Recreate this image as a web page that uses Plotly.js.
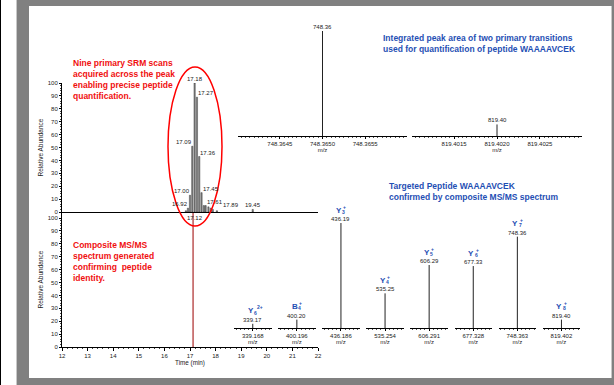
<!DOCTYPE html>
<html><head><meta charset="utf-8">
<script src="https://cdn.plot.ly/plotly-3.0.1.min.js"></script>
<style>html,body{margin:0;padding:0;background:#fff}#chart{width:614px;height:385px}</style>
</head><body><div id="chart"></div>
<script>
// ---------- DATA ----------
// Upper panel: SRM chromatogram (retention time in min, relative abundance %)
const scanTimes     = [16.84, 16.92, 17.00, 17.09, 17.18, 17.27, 17.36, 17.45, 17.54, 17.61, 17.72, 17.81, 17.89, 18.05, 19.45];
const scanAbundance = [1, 3, 13, 51, 100, 89, 43, 15, 5, 5, 4, 3, 2, 1, 2];
const labeledScans  = [16.92, 17.00, 17.09, 17.18, 17.27, 17.36, 17.45, 17.61, 17.89, 19.45];
const msmsTime = 17.12;

// Top right: the two primary SRM transitions (m/z, relative peak area)
const srmMz    = [748.3650, 819.4020];
const srmArea  = [100, 11];
const srmTicks = [[748.3645, 748.3650, 748.3655], [819.4015, 819.4020, 819.4025]];

// Lower panel: composite MS/MS fragment ions
const ionType      = ['Y', 'B', 'Y', 'Y', 'Y', 'Y', 'Y', 'Y'];
const ionNumber    = ['6', '4', '3', '4', '5', '6', '7', '8'];
const ionCharge    = ['2+', '+', '+', '+', '+', '+', '+', '+'];
const ionMz        = [339.168, 400.196, 436.186, 535.254, 606.291, 677.328, 748.363, 819.402];
const ionAbundance = [4, 8, 100, 33, 60, 59, 87, 8];

// ---------- LAYOUT HELPERS ----------
const W = 614, H = 385;
const fx = p => p / W;
const fy = p => 1 - p / H;
const FONT = 'Liberation Sans, Arial, sans-serif';
const tickFont = {family: FONT, size: 6, color: '#222'};
const RED = '#f01010', BLUE = '#1f4fb4';
const trunc2 = v => (Math.floor(v * 100 + 1e-6) / 100).toFixed(2);

const traces = [];
const layout = {
  width: W, height: H, margin: {l: 0, r: 0, t: 0, b: 0},
  paper_bgcolor: '#fff', plot_bgcolor: 'rgba(0,0,0,0)',
  showlegend: false, annotations: [], shapes: []
};

// frame
layout.shapes.push(
  {type: 'rect', xref: 'paper', yref: 'paper', x0: fx(17), x1: fx(614), y0: 0, y1: 1, fillcolor: '#808080', line: {width: 0}, layer: 'below'},
  {type: 'rect', xref: 'paper', yref: 'paper', x0: fx(29), x1: fx(611), y0: fy(378), y1: fy(6), fillcolor: '#ffffff', line: {width: 0}, layer: 'below'},
  {type: 'line', xref: 'paper', yref: 'paper', x0: fx(16.5), x1: fx(16.5), y0: 0, y1: 1, line: {color: '#c8c8c8', width: 1}, layer: 'below'},
  {type: 'line', xref: 'paper', yref: 'paper', x0: fx(611.5), x1: fx(611.5), y0: fy(378), y1: fy(6), line: {color: '#c8c8c8', width: 1}, layer: 'below'},
  {type: 'line', xref: 'paper', yref: 'paper', x0: fx(0.5), x1: fx(0.5), y0: 0, y1: 1, line: {color: '#000', width: 1}, layer: 'below'}
);

// ---------- CHROMATOGRAM AXES ----------
const timeDomain = [fx(62), fx(318)];
const axLine = {showline: true, linecolor: '#000', linewidth: 1, showgrid: false, zeroline: false, fixedrange: true};
layout.xaxis = Object.assign({}, axLine, {
  domain: timeDomain, range: [12, 22], anchor: 'y', ticks: 'outside', ticklen: 2.5, tickcolor: '#000',
  tick0: 12, dtick: 1, tickfont: tickFont,
  minor: {ticks: 'outside', ticklen: 1.2, dtick: 0.2, tickcolor: '#444', showgrid: false},
  title: {text: 'Time (min)', font: {family: FONT, size: 6.3, color: '#222'}, standoff: 2}
});
layout.yaxis = Object.assign({}, axLine, {
  domain: [fy(347), fy(212)], range: [0, 104.65], anchor: 'x', ticks: 'outside', ticklen: 2, tickcolor: '#000',
  tickvals: [0,10,20,30,40,50,60,70,80,90,100], tickfont: tickFont,
  minor: {ticks: 'outside', ticklen: 1.2, tickvals: [2,4,6,8,12,14,16,18,22,24,26,28,32,34,36,38,42,44,46,48,52,54,56,58,62,64,66,68,72,74,76,78,82,84,86,88,92,94,96,98], tickcolor: '#444'},
  title: {text: 'Relative Abundance', font: {family: FONT, size: 6.5, color: '#222'}, standoff: 3}
});
layout.xaxis2 = Object.assign({}, axLine, {
  domain: timeDomain, range: [12, 22], anchor: 'y2', ticks: '', showticklabels: false
});
layout.yaxis2 = Object.assign({}, axLine, {
  domain: [fy(212), fy(83)], range: [0, 100], anchor: 'x2', ticks: 'outside', ticklen: 2, tickcolor: '#000',
  tick0: 0, dtick: 10, tickfont: tickFont,
  minor: {ticks: 'outside', ticklen: 1.2, dtick: 2, tickcolor: '#444'},
  title: {text: 'Relative Abundance', font: {family: FONT, size: 6.5, color: '#222'}, standoff: 3}
});

traces.push({
  type: 'bar', x: scanTimes, y: scanAbundance, xaxis: 'x2', yaxis: 'y2', width: 0.05,
  marker: {color: '#8a8a8a', line: {color: '#1a1a1a', width: 0.4}}, hoverinfo: 'skip'
});
traces.push({
  type: 'scatter', mode: 'lines', x: [msmsTime, msmsTime], y: [0, 104.65], xaxis: 'x', yaxis: 'y',
  line: {color: '#b84848', width: 1.4}, hoverinfo: 'skip'
});

// chromatogram peak labels
const apexIdx = scanAbundance.indexOf(Math.max(...scanAbundance));
const apexT = scanTimes[apexIdx];
const tpx = t => 62 + (t - 12) * 25.6;
let lastLowRight = -1e9;
labeledScans.forEach(t => {
  const h = scanAbundance[scanTimes.indexOf(t)];
  let anchor = 'center', shift = 0;
  if (t < apexT) anchor = 'right';
  else if (t > apexT && t < 19) anchor = 'left';
  if (anchor === 'left' && h < 10) {
    const left = tpx(t);
    if (left < lastLowRight + 1) shift = lastLowRight + 1 - left;
    lastLowRight = left + shift + 15;
  }
  if (anchor === 'right') shift = 1;
  layout.annotations.push({
    xref: 'x2', yref: 'y2', x: t, y: h, text: t.toFixed(2), showarrow: false,
    xanchor: anchor, yanchor: 'bottom', xshift: shift, yshift: 0, borderpad: 0,
    font: tickFont
  });
});
layout.annotations.push({
  xref: 'x2', yref: 'y2', x: msmsTime, y: 0, text: msmsTime.toFixed(2), showarrow: false,
  xanchor: 'center', yanchor: 'top', xshift: 1.5, yshift: -1.5, borderpad: 0, font: tickFont
});

// ellipse around SRM scans
layout.shapes.push({type: 'circle', xref: 'paper', yref: 'paper', x0: fx(168), x1: fx(222), y0: fy(226), y1: fy(67), line: {color: '#ff0000', width: 1.5}});

// ---------- MINI SPECTRUM AXES ----------
function miniAxes(n, xd, yd, range, xopts) {
  layout['xaxis' + n] = Object.assign({}, axLine, {
    domain: xd, range: range, anchor: 'y' + n, ticks: 'outside', ticklen: 2, tickcolor: '#000', tickfont: tickFont,
    title: {text: 'm/z', font: {family: FONT, size: 6, color: '#222'}, standoff: 1}
  }, xopts);
  layout['yaxis' + n] = {domain: yd, range: [0, 100], anchor: 'x' + n, visible: false, fixedrange: true};
}
function stick(n, x, h) {
  traces.push({type: 'scatter', mode: 'lines', x: [x, x], y: [0, h], xaxis: 'x' + n, yaxis: 'y' + n,
    line: {color: '#222', width: 1}, hoverinfo: 'skip'});
}

// SRM transitions
const srmX = [[238, 407], [412, 582]];
const srmRanges = [[748.36401, 748.36599], [819.40101, 819.40299]];
srmMz.forEach((mz, i) => {
  const n = 3 + i;
  miniAxes(n, [fx(srmX[i][0]), fx(srmX[i][1])], [fy(136), fy(31)], srmRanges[i],
    {tickmode: 'array', tickvals: srmTicks[i], tickformat: '.4f', minor: {ticks: 'outside', ticklen: 1.2, tickcolor: '#555', tick0: srmTicks[i][0], dtick: 0.00005}});
  stick(n, mz, srmArea[i]);
  layout.annotations.push({xref: 'x' + n, yref: 'y' + n, x: mz, y: srmArea[i], text: trunc2(mz), showarrow: false,
    xanchor: 'center', yanchor: 'bottom', borderpad: 0, yshift: 0, font: tickFont});
});

// MS/MS fragment ions
ionMz.forEach((mz, i) => {
  const n = 5 + i;
  const left = 234 + i * 44.1;
  miniAxes(n, [fx(left), fx(left + 37.5)], [fy(328), fy(223)], [mz - 0.0045, mz + 0.0045],
    {tickmode: 'array', tickvals: [mz], tickformat: '.3f', minor: {ticks: 'outside', ticklen: 1.2, tickcolor: '#555', tick0: mz, dtick: 0.001}});
  stick(n, mz, ionAbundance[i]);
  const y = ionAbundance[i];
  const base = {xref: 'x' + n, yref: 'y' + n, x: mz, y: y, showarrow: false, yanchor: 'bottom', borderpad: 0};
  layout.annotations.push(Object.assign({}, base, {text: mz.toFixed(2), xanchor: 'center', yshift: 0, font: tickFont}));
  // ion name: letter with stacked subscript (index) and superscript (charge)
  layout.annotations.push(Object.assign({}, base, {text: '<b>' + ionType[i] + '</b>', xanchor: 'right', xshift: 2, yshift: 7.5,
    font: {family: FONT, size: 8, color: BLUE}}));
  layout.annotations.push(Object.assign({}, base, {text: '<b>' + ionNumber[i] + '</b>', xanchor: 'left', xshift: 0.3, yshift: 7.2,
    font: {family: FONT, size: 5, color: BLUE}}));
  layout.annotations.push(Object.assign({}, base, {text: '<b>' + ionCharge[i] + '</b>', xanchor: 'left', xshift: ionCharge[i].length > 1 ? 3.5 : 1.3, yshift: 12.5,
    font: {family: FONT, size: 5, color: BLUE}}));
});

// ---------- TEXT BLOCKS ----------
const block = (x, y, text, color) => layout.annotations.push({
  xref: 'paper', yref: 'paper', x: fx(x), y: fy(y), xanchor: 'left', yanchor: 'top', align: 'left',
  text: '<b>' + text + '</b>', showarrow: false, borderpad: 0, font: {family: FONT, size: 8.5, color: color}
});
block(72, 57, 'Nine primary SRM scans<br>acquired across the peak<br>enabling precise peptide<br>quantification.', RED);
block(72, 239, 'Composite MS/MS<br>spectrum generated<br>confirming\u00a0 peptide<br>identity.', RED);
block(382, 32, 'Integrated peak area of two primary transitions<br>used for quantification of peptide WAAAAVCEK', BLUE);
block(388, 180, 'Targeted Peptide WAAAAVCEK<br>confirmed by composite MS/MS spectrum', BLUE);

Plotly.newPlot('chart', traces, layout, {staticPlot: true, displayModeBar: false});
</script>
</body></html>
